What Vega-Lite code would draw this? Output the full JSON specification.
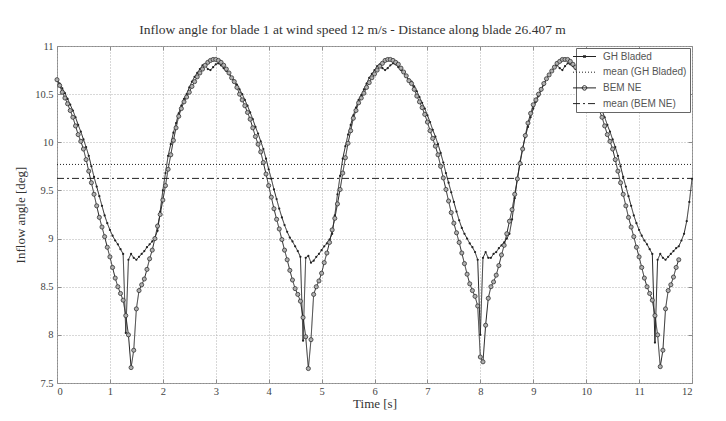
{
"$schema": "https://vega.github.io/schema/vega-lite/v6.json",
"width": 635, "height": 337,
"autosize": {"type": "none"},
"padding": {"left": 57, "top": 46, "right": 34, "bottom": 38},
"background": "white",
"config": {
  "view": {"stroke": "#8c8c8c", "strokeWidth": 1},
  "axis": {"labelFont": "Liberation Serif", "labelFontSize": 10.5, "labelColor": "#444", "titleFont": "Liberation Serif", "titleFontSize": 13, "titleFontWeight": "normal", "titleColor": "#333", "gridColor": "#b0b0b0", "gridDash": [1, 2], "gridWidth": 1, "domain": false, "tickColor": "#8c8c8c"},
  "legend": {"orient": "top-right", "offset": 2, "fillColor": "white", "strokeColor": "#666", "padding": 3, "labelFont": "Liberation Sans", "labelFontSize": 10, "labelColor": "#555", "rowPadding": 4.7, "symbolSize": 100, "symbolStrokeColor": "#222", "symbolStrokeWidth": 1, "symbolOpacity": 1, "labelOffset": 13}
},
"title": {"text": "Inflow angle for blade 1 at wind speed 12 m/s - Distance along blade 26.407 m", "font": "Liberation Serif", "fontSize": 13.5, "fontWeight": "normal", "color": "#333", "anchor": "middle", "dx": -22, "dy": 18, "offset": 12, "baseline": "alphabetic"},
"datasets": {"d": [
{"t":0,"g":10.65,"b":10.65},{"t":0.05,"g":10.61,"b":10.59},{"t":0.1,"g":10.56,"b":10.52},{"t":0.15,"g":10.51,"b":10.46},{"t":0.2,"g":10.45,"b":10.4},{"t":0.25,"g":10.39,"b":10.33},{"t":0.3,"g":10.33,"b":10.26},{"t":0.35,"g":10.26,"b":10.17},{"t":0.4,"g":10.18,"b":10.08},{"t":0.45,"g":10.11,"b":10.01},{"t":0.5,"g":10.03,"b":9.93},{"t":0.55,"g":9.95,"b":9.82},{"t":0.6,"g":9.86,"b":9.7},{"t":0.65,"g":9.75,"b":9.58},{"t":0.7,"g":9.64,"b":9.46},{"t":0.75,"g":9.54,"b":9.34},{"t":0.8,"g":9.44,"b":9.22},{"t":0.85,"g":9.34,"b":9.12},{"t":0.9,"g":9.24,"b":9.02},{"t":0.95,"g":9.16,"b":8.91},{"t":1,"g":9.09,"b":8.81},{"t":1.05,"g":9.03,"b":8.7},{"t":1.1,"g":8.98,"b":8.59},{"t":1.15,"g":8.94,"b":8.5},{"t":1.2,"g":8.89,"b":8.43},{"t":1.25,"g":8.84,"b":8.36},{"t":1.3,"g":8.02,"b":8.2},{"t":1.35,"g":8.78,"b":8},{"t":1.4,"g":8.84,"b":7.66},{"t":1.45,"g":8.8,"b":7.84},{"t":1.5,"g":8.78,"b":8.27},{"t":1.55,"g":8.81,"b":8.46},{"t":1.6,"g":8.84,"b":8.52},{"t":1.65,"g":8.87,"b":8.58},{"t":1.7,"g":8.91,"b":8.68},{"t":1.75,"g":8.94,"b":8.79},{"t":1.8,"g":8.97,"b":8.88},{"t":1.85,"g":9.01,"b":9},{"t":1.9,"g":9.08,"b":9.13},{"t":1.95,"g":9.28,"b":9.25},{"t":2,"g":9.5,"b":9.4},{"t":2.05,"g":9.68,"b":9.55},{"t":2.1,"g":9.86,"b":9.72},{"t":2.15,"g":9.98,"b":9.87},{"t":2.2,"g":10.1,"b":10.02},{"t":2.25,"g":10.2,"b":10.15},{"t":2.3,"g":10.3,"b":10.27},{"t":2.35,"g":10.38,"b":10.35},{"t":2.4,"g":10.45,"b":10.42},{"t":2.45,"g":10.5,"b":10.47},{"t":2.5,"g":10.57,"b":10.52},{"t":2.55,"g":10.63,"b":10.58},{"t":2.6,"g":10.68,"b":10.63},{"t":2.65,"g":10.72,"b":10.68},{"t":2.7,"g":10.76,"b":10.72},{"t":2.75,"g":10.8,"b":10.76},{"t":2.8,"g":10.8,"b":10.8},{"t":2.85,"g":10.76,"b":10.83},{"t":2.9,"g":10.75,"b":10.85},{"t":2.95,"g":10.78,"b":10.86},{"t":3,"g":10.81,"b":10.86},{"t":3.05,"g":10.82,"b":10.85},{"t":3.1,"g":10.8,"b":10.83},{"t":3.15,"g":10.77,"b":10.8},{"t":3.2,"g":10.74,"b":10.76},{"t":3.25,"g":10.71,"b":10.72},{"t":3.3,"g":10.67,"b":10.67},
{"t":3.35,"g":10.64,"b":10.63},{"t":3.4,"g":10.6,"b":10.57},{"t":3.45,"g":10.55,"b":10.5},{"t":3.5,"g":10.5,"b":10.44},{"t":3.55,"g":10.44,"b":10.38},{"t":3.6,"g":10.38,"b":10.31},{"t":3.65,"g":10.31,"b":10.24},{"t":3.7,"g":10.24,"b":10.15},{"t":3.75,"g":10.16,"b":10.06},{"t":3.8,"g":10.09,"b":9.98},{"t":3.85,"g":10.01,"b":9.9},{"t":3.9,"g":9.93,"b":9.79},{"t":3.95,"g":9.83,"b":9.67},{"t":4,"g":9.72,"b":9.55},{"t":4.05,"g":9.62,"b":9.43},{"t":4.1,"g":9.51,"b":9.31},{"t":4.15,"g":9.41,"b":9.2},{"t":4.2,"g":9.31,"b":9.1},{"t":4.25,"g":9.22,"b":8.99},{"t":4.3,"g":9.14,"b":8.88},{"t":4.35,"g":9.07,"b":8.78},{"t":4.4,"g":9.01,"b":8.67},{"t":4.45,"g":8.97,"b":8.57},{"t":4.5,"g":8.92,"b":8.48},{"t":4.55,"g":8.87,"b":8.42},{"t":4.6,"g":8.81,"b":8.35},{"t":4.65,"g":7.94,"b":8.18},{"t":4.7,"g":8.8,"b":7.98},{"t":4.75,"g":8.82,"b":7.65},{"t":4.8,"g":8.75,"b":7.95},{"t":4.85,"g":8.77,"b":8.42},{"t":4.9,"g":8.81,"b":8.5},{"t":4.95,"g":8.84,"b":8.56},{"t":5,"g":8.88,"b":8.64},{"t":5.05,"g":8.92,"b":8.75},{"t":5.1,"g":8.95,"b":8.85},{"t":5.15,"g":8.99,"b":8.96},{"t":5.2,"g":9.05,"b":9.09},{"t":5.25,"g":9.24,"b":9.21},{"t":5.3,"g":9.46,"b":9.36},{"t":5.35,"g":9.65,"b":9.51},{"t":5.4,"g":9.83,"b":9.68},{"t":5.45,"g":9.96,"b":9.84},{"t":5.5,"g":10.08,"b":9.99},{"t":5.55,"g":10.18,"b":10.12},{"t":5.6,"g":10.28,"b":10.25},{"t":5.65,"g":10.36,"b":10.33},{"t":5.7,"g":10.44,"b":10.41},{"t":5.75,"g":10.49,"b":10.46},{"t":5.8,"g":10.55,"b":10.51},{"t":5.85,"g":10.61,"b":10.57},{"t":5.9,"g":10.67,"b":10.62},{"t":5.95,"g":10.71,"b":10.67},{"t":6,"g":10.75,"b":10.71},{"t":6.05,"g":10.79,"b":10.75},{"t":6.1,"g":10.81,"b":10.79},{"t":6.15,"g":10.77,"b":10.82},{"t":6.2,"g":10.75,"b":10.85},{"t":6.25,"g":10.77,"b":10.86},{"t":6.3,"g":10.8,"b":10.86},{"t":6.35,"g":10.82,"b":10.85},{"t":6.4,"g":10.81,"b":10.83},{"t":6.45,"g":10.78,"b":10.81},{"t":6.5,"g":10.75,"b":10.77},{"t":6.55,"g":10.72,"b":10.73},{"t":6.6,"g":10.68,"b":10.69},{"t":6.65,"g":10.65,"b":10.64},
{"t":6.7,"g":10.63,"b":10.61},{"t":6.75,"g":10.58,"b":10.55},{"t":6.8,"g":10.53,"b":10.48},{"t":6.85,"g":10.47,"b":10.42},{"t":6.9,"g":10.41,"b":10.36},{"t":6.95,"g":10.35,"b":10.29},{"t":7,"g":10.28,"b":10.21},{"t":7.05,"g":10.21,"b":10.12},{"t":7.1,"g":10.13,"b":10.04},{"t":7.15,"g":10.06,"b":9.96},{"t":7.2,"g":9.98,"b":9.87},{"t":7.25,"g":9.89,"b":9.75},{"t":7.3,"g":9.79,"b":9.63},{"t":7.35,"g":9.68,"b":9.51},{"t":7.4,"g":9.58,"b":9.39},{"t":7.45,"g":9.48,"b":9.27},{"t":7.5,"g":9.38,"b":9.16},{"t":7.55,"g":9.28,"b":9.06},{"t":7.6,"g":9.19,"b":8.96},{"t":7.65,"g":9.11,"b":8.85},{"t":7.7,"g":9.05,"b":8.74},{"t":7.75,"g":9,"b":8.63},{"t":7.8,"g":8.95,"b":8.53},{"t":7.85,"g":8.91,"b":8.46},{"t":7.9,"g":8.86,"b":8.4},{"t":7.95,"g":8.78,"b":8.3},{"t":8,"g":8,"b":7.77},{"t":8.05,"g":8.8,"b":7.72},{"t":8.1,"g":8.86,"b":8.1},{"t":8.15,"g":8.8,"b":8.38},{"t":8.2,"g":8.8,"b":8.5},{"t":8.25,"g":8.84,"b":8.55},{"t":8.3,"g":8.86,"b":8.62},{"t":8.35,"g":8.9,"b":8.72},{"t":8.4,"g":8.93,"b":8.83},{"t":8.45,"g":8.96,"b":8.93},{"t":8.5,"g":9,"b":9.05},{"t":8.55,"g":9.05,"b":9.18},{"t":8.6,"g":9.2,"b":9.3},{"t":8.65,"g":9.42,"b":9.46},{"t":8.7,"g":9.62,"b":9.62},{"t":8.75,"g":9.8,"b":9.78},{"t":8.8,"g":9.94,"b":9.93},{"t":8.85,"g":10.06,"b":10.07},{"t":8.9,"g":10.16,"b":10.2},{"t":8.95,"g":10.26,"b":10.3},{"t":9,"g":10.35,"b":10.39},{"t":9.05,"g":10.42,"b":10.44},{"t":9.1,"g":10.48,"b":10.5},{"t":9.15,"g":10.54,"b":10.55},{"t":9.2,"g":10.6,"b":10.61},{"t":9.25,"g":10.66,"b":10.66},{"t":9.3,"g":10.7,"b":10.7},{"t":9.35,"g":10.74,"b":10.74},{"t":9.4,"g":10.78,"b":10.78},{"t":9.45,"g":10.8,"b":10.82},{"t":9.5,"g":10.77,"b":10.84},{"t":9.55,"g":10.75,"b":10.86},{"t":9.6,"g":10.79,"b":10.86},{"t":9.65,"g":10.82,"b":10.86},{"t":9.7,"g":10.81,"b":10.84},{"t":9.75,"g":10.79,"b":10.81},{"t":9.8,"g":10.76,"b":10.78},{"t":9.85,"g":10.72,"b":10.74},{"t":9.9,"g":10.69,"b":10.7},{"t":9.95,"g":10.66,"b":10.66},
{"t":10,"g":10.65,"b":10.65},{"t":10.05,"g":10.61,"b":10.59},{"t":10.1,"g":10.56,"b":10.52},{"t":10.15,"g":10.51,"b":10.46},{"t":10.2,"g":10.45,"b":10.4},{"t":10.25,"g":10.39,"b":10.33},{"t":10.3,"g":10.33,"b":10.26},{"t":10.35,"g":10.26,"b":10.17},{"t":10.4,"g":10.18,"b":10.08},{"t":10.45,"g":10.11,"b":10.01},{"t":10.5,"g":10.03,"b":9.93},{"t":10.55,"g":9.95,"b":9.82},{"t":10.6,"g":9.86,"b":9.7},{"t":10.65,"g":9.75,"b":9.58},{"t":10.7,"g":9.64,"b":9.46},{"t":10.75,"g":9.54,"b":9.34},{"t":10.8,"g":9.44,"b":9.22},{"t":10.85,"g":9.34,"b":9.12},{"t":10.9,"g":9.24,"b":9.02},{"t":10.95,"g":9.16,"b":8.91},{"t":11,"g":9.09,"b":8.81},{"t":11.05,"g":9.03,"b":8.7},{"t":11.1,"g":8.98,"b":8.59},{"t":11.15,"g":8.94,"b":8.5},{"t":11.2,"g":8.89,"b":8.43},{"t":11.25,"g":8.84,"b":8.36},{"t":11.3,"g":7.92,"b":8.2},{"t":11.35,"g":8.78,"b":8},{"t":11.4,"g":8.84,"b":7.67},{"t":11.45,"g":8.8,"b":7.84},{"t":11.5,"g":8.78,"b":8.27},{"t":11.55,"g":8.81,"b":8.46},{"t":11.6,"g":8.84,"b":8.52},{"t":11.65,"g":8.87,"b":8.6},{"t":11.7,"g":8.9,"b":8.7},{"t":11.75,"g":8.92,"b":8.78},{"t":11.8,"g":8.98},{"t":11.85,"g":9.05},{"t":11.9,"g":9.18},{"t":11.95,"g":9.38},{"t":12,"g":9.62},
{"t":0,"mg":9.77,"mb":9.625},{"t":12,"mg":9.77,"mb":9.625}
]},
"data": {"name": "d"},
"layer": [
  {
    "mark": {"type": "line", "color": "#222"},
    "transform": [{"fold": ["g", "mg", "b", "mb"], "as": ["s", "v"]}, {"filter": "isValid(datum.v)"}],
    "encoding": {
      "x": {"field": "t", "type": "quantitative", "scale": {"domain": [0, 12], "nice": false}, "axis": {"values": [0,1,2,3,4,5,6,7,8,9,10,11,12], "format": "~g", "grid": true, "tickSize": -4, "labelPadding": 7, "title": "Time [s]", "titlePadding": 1}},
      "y": {"field": "v", "type": "quantitative", "scale": {"domain": [7.5, 11], "nice": false, "zero": false}, "axis": {"values": [7.5,8,8.5,9,9.5,10,10.5,11], "format": "~g", "grid": true, "tickSize": -4, "labelPadding": 8, "title": "Inflow angle [deg]", "titlePadding": 7}},
      "strokeDash": {"field": "s", "type": "nominal", "scale": {"domain": ["g", "mg", "b", "mb"], "range": [[1, 0], [1, 2], [1, 0], [7, 3, 2, 3]]},
        "legend": {"title": null, "labelExpr": "datum.label == 'g' ? 'GH Bladed' : datum.label == 'mg' ? 'mean (GH Bladed)' : datum.label == 'b' ? 'BEM NE' : 'mean (BEM NE)'"}},
      "strokeWidth": {"field": "s", "type": "ordinal", "scale": {"domain": ["g", "mg", "b", "mb"], "range": [1, 1, 1, 2]},
        "legend": {"title": null, "labelExpr": "datum.label == 'g' ? 'GH Bladed' : datum.label == 'mg' ? 'mean (GH Bladed)' : datum.label == 'b' ? 'BEM NE' : 'mean (BEM NE)'"}}
    }
  },
  {
    "mark": {"type": "point", "shape": "circle", "filled": true, "color": "#222", "size": 5, "opacity": 1},
    "encoding": {
      "x": {"field": "t", "type": "quantitative", "axis": {"orient": "top", "values": [0,1,2,3,4,5,6,7,8,9,10,11,12], "labels": false, "title": null, "grid": false, "tickSize": -4}},
      "y": {"field": "g", "type": "quantitative", "axis": {"orient": "right", "values": [7.5,8,8.5,9,9.5,10,10.5,11], "labels": false, "title": null, "grid": false, "tickSize": -4}}
    }
  },
  {
    "mark": {"type": "point", "shape": "circle", "filled": true, "fill": "#b0b0b0", "stroke": "#333", "strokeWidth": 0.8, "size": 17, "opacity": 1},
    "encoding": {
      "x": {"field": "t", "type": "quantitative", "axis": null},
      "y": {"field": "b", "type": "quantitative", "axis": null}
    }
  },
  {
    "mark": {"type": "point", "filled": false, "color": "#222", "opacity": 0},
    "transform": [{"fold": ["mg", "mb"], "as": ["s", "v"]}, {"filter": "isValid(datum.v)"}],
    "encoding": {
      "x": {"field": "t", "type": "quantitative", "axis": null},
      "y": {"field": "v", "type": "quantitative", "axis": null},
      "shape": {"field": "s", "type": "nominal", "scale": {"domain": ["g", "mg", "b", "mb"], "range": ["M-2.3,0H2.3M-0.2,-0.2H0.2V0.2H-0.2Z", "M-2.3,0H2.3", "M-2.3,0H2.3M-0.45,0A0.45,0.45 0 1,0 0.45,0A0.45,0.45 0 1,0 -0.45,0", "M-2.3,0H2.3"]},
        "legend": {"title": null, "labelExpr": "datum.label == 'g' ? 'GH Bladed' : datum.label == 'mg' ? 'mean (GH Bladed)' : datum.label == 'b' ? 'BEM NE' : 'mean (BEM NE)'"}}
    }
  }
],
"resolve": {"axis": {"x": "independent", "y": "independent"}}
}
